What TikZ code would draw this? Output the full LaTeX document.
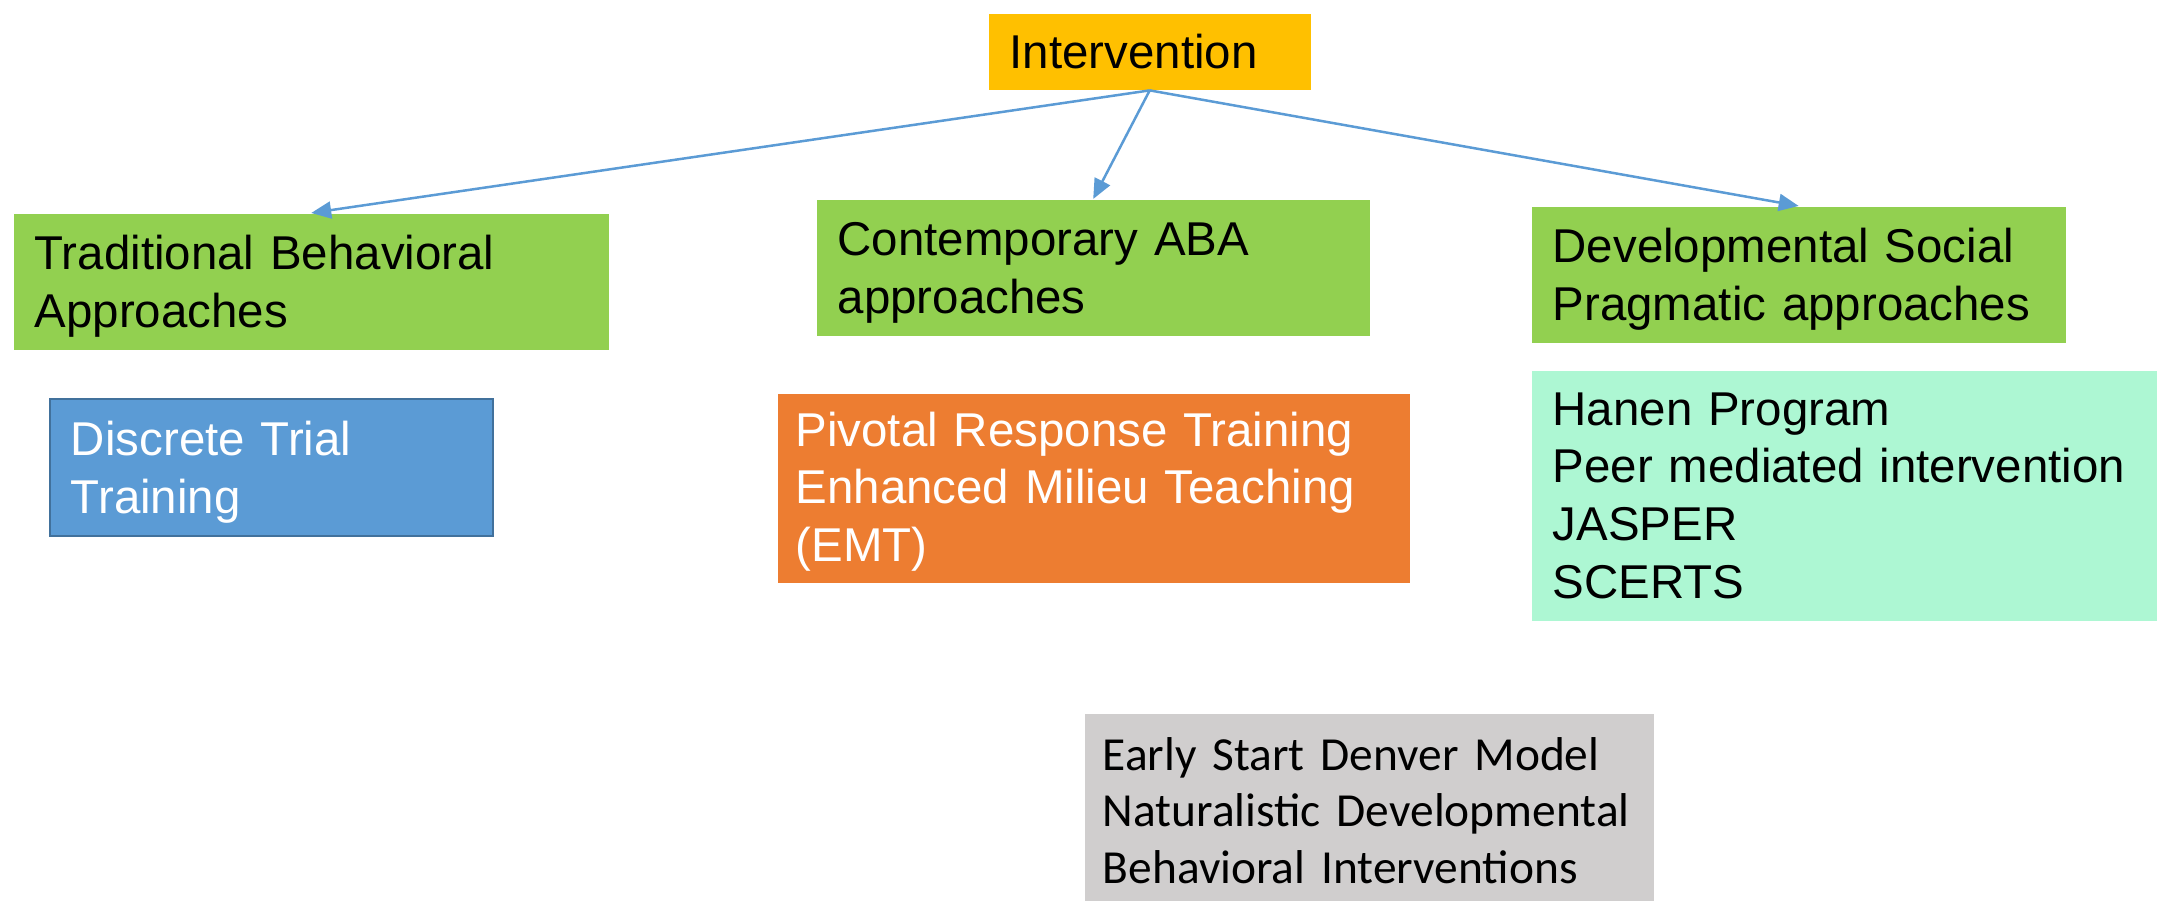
\documentclass[tikz,border=0pt]{standalone}
\usepackage{fontspec}
\setmainfont{Liberation Sans}
\newfontfamily\calibri{Carlito}
\usetikzlibrary{arrows.meta}
\hyphenpenalty=10000

\definecolor{topgold}{HTML}{FFC000}
\definecolor{appgreen}{HTML}{92D050}
\definecolor{dttblue}{HTML}{5B9BD5}
\definecolor{dttedge}{HTML}{41719C}
\definecolor{prtorange}{HTML}{ED7D31}
\definecolor{dspmint}{HTML}{ADF7D3}
\definecolor{esdmgray}{HTML}{D0CECE}
\definecolor{linkblue}{HTML}{5B9BD5}

\begin{document}
\begin{tikzpicture}[x = 0.1mm, y = -0.1mm,
    every node/.style = {shape = rectangle, anchor = north west, align = left,
        inner xsep = 2.1mm, inner ysep = 0pt,
        font = \fontsize{13.5}{16.4}\selectfont},
    approach/.style = {fill = appgreen, minimum height = 13.6mm, text height = 12.5pt},
    link/.style = {draw = linkblue, line width = 0.25mm,
        -{Triangle[length = 2mm, width = 1.7mm]}}]
    \useasboundingbox (0,0) rectangle (2157,901);

    % root
    \node[fill = topgold, minimum height = 7.6mm, text width = 28mm] (top) at (988,13) {Intervention};

    % three families of approaches
    \node[approach, text width = 55.3mm] (trad) at (13,213) {Traditional Behavioral\\Approaches};
    \node[approach, text width = 51.1mm] (aba) at (816,199) {Contemporary ABA\\approaches};
    \node[approach, text width = 49.2mm] (dev) at (1531,206) {Developmental Social\\Pragmatic approaches};

    % examples under each
    \node[fill = dttblue, draw = dttedge, line width = 0.2mm, text = white, text height = 12.3pt,
        minimum height = 13.7mm, text width = 40.1mm] (dtt) at (49,398) {Discrete Trial\\Training};
    \node[fill = prtorange, text = white, inner xsep = 1.8mm, text height = 11.6pt,
        minimum height = 18.9mm, text width = 59.6mm] (prt) at (777,393)
        {Pivotal Response Training\\Enhanced Milieu Teaching\\(EMT)};
    \node[fill = dspmint, minimum height = 25mm, text width = 58.4mm] (dsp) at (1531,370)
        {Hanen Program\\Peer mediated intervention\\JASPER\\SCERTS};
    \node[fill = esdmgray, font = \calibri\fontsize{13.5}{16.2}\selectfont,
        inner xsep = 1.8mm, minimum height = 19.4mm, text width = 53.3mm] (esdm) at (1084,713)
        {Early Start Denver Model\\Naturalistic Developmental\\Behavioral Interventions};

    \draw[link] (top.south) -- (trad.north);
    \draw[link] (top.south) -- (aba.north);
    \draw[link] (top.south) -- (dev.north);
\end{tikzpicture}
\end{document}
